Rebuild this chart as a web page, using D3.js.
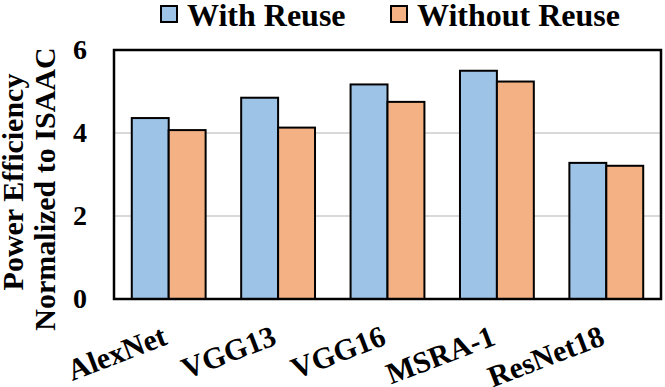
<!DOCTYPE html>
<html>
<head>
<meta charset="utf-8">
<script src="https://cdn.jsdelivr.net/npm/d3@7"></script>
<style>
  body { margin: 0; background: #fff; }
  text { font-family: "Liberation Serif", "Times New Roman", serif; font-weight: bold; }
</style>
</head>
<body>
<div id="chart"></div>
<script>
const categories = ['AlexNet', 'VGG13', 'VGG16', 'MSRA-1', 'ResNet18'];
const seriesNames = ['With Reuse', 'Without Reuse'];
const withReuse = [4.36, 4.85, 5.17, 5.50, 3.28];
const withoutReuse = [4.07, 4.13, 4.75, 5.24, 3.21];
const yTicks = [0, 2, 4, 6];

const colors = ['#9dc3e6', '#f4b183'];

const width = 665;
const height = 387;
const margin = { top: 50, right: 4, bottom: 88, left: 114 };
const innerWidth = width - margin.left - margin.right;
const innerHeight = height - margin.top - margin.bottom;

const data = categories.map((c, i) => ({ category: c, values: [withReuse[i], withoutReuse[i]] }));

const svg = d3.select('#chart')
    .append('svg')
    .attr('width', width)
    .attr('height', height);

const g = svg.append('g')
    .attr('transform', `translate(${margin.left},${margin.top})`);

const x0 = d3.scaleBand()
    .domain(categories)
    .range([0, innerWidth])
    .paddingInner(0.325)
    .paddingOuter(0.1625);

const x1 = d3.scaleBand()
    .domain(seriesNames)
    .range([0, x0.bandwidth()]);

const yScale = d3.scaleLinear()
    .domain([0, 6])
    .range([innerHeight, 0]);

// gridlines
g.selectAll('.grid')
    .data(yTicks.filter(t => t > 0 && t < 6))
    .enter()
    .append('line')
    .attr('x1', 0)
    .attr('x2', innerWidth)
    .attr('y1', d => yScale(d))
    .attr('y2', d => yScale(d))
    .attr('stroke', '#d9d9d9')
    .attr('stroke-width', 2);

// bars
const groups = g.selectAll('.group')
    .data(data)
    .enter()
    .append('g')
    .attr('transform', d => `translate(${x0(d.category)},0)`);

groups.selectAll('rect')
    .data(d => d.values.map((v, i) => ({ key: seriesNames[i], value: v, idx: i })))
    .enter()
    .append('rect')
    .attr('x', d => x1(d.key))
    .attr('y', d => yScale(d.value))
    .attr('width', x1.bandwidth())
    .attr('height', d => innerHeight - yScale(d.value))
    .attr('fill', d => colors[d.idx])
    .attr('stroke', 'black')
    .attr('stroke-width', 2);

// frame
g.append('rect')
    .attr('x', 0)
    .attr('y', 0)
    .attr('width', innerWidth)
    .attr('height', innerHeight)
    .attr('fill', 'none')
    .attr('stroke', 'black')
    .attr('stroke-width', 2.5);

// y axis labels
const yAxis = d3.axisLeft(yScale).tickValues(yTicks).tickFormat(d3.format('d')).tickSize(0).tickPadding(27);
const yG = g.append('g').call(yAxis);
yG.select('.domain').remove();
yG.selectAll('text')
    .style('font-size', '28px')
    .attr('fill', 'black');

// x labels, rotated
g.selectAll('.xlabel')
    .data(categories)
    .enter()
    .append('text')
    .attr('text-anchor', 'end')
    .attr('transform', d => `translate(${x0(d) + x0.bandwidth() / 2},${innerHeight + 45}) rotate(-21)`)
    .style('font-size', '30px')
    .text(d => d);

// y title
const titleLines = ['Power Efficiency', 'Normalized to ISAAC'];
svg.selectAll('.ytitle')
    .data(titleLines)
    .enter()
    .append('text')
    .attr('text-anchor', 'middle')
    .attr('transform', (d, i) => `translate(${i === 0 ? 23 : 55},${i === 0 ? 182 : 189}) rotate(-90)`)
    .style('font-size', '30px')
    .text(d => d);

// legend
const legendX = [160, 390];
const legend = svg.selectAll('.legend')
    .data(seriesNames)
    .enter()
    .append('g')
    .attr('transform', (d, i) => `translate(${legendX[i]},5)`);

legend.append('rect')
    .attr('x', 1)
    .attr('y', 1)
    .attr('width', 16)
    .attr('height', 16)
    .attr('fill', (d, i) => colors[i])
    .attr('stroke', 'black')
    .attr('stroke-width', 2);

legend.append('text')
    .attr('x', 27)
    .attr('y', 21)
    .style('font-size', '32px')
    .text(d => d);
</script>
</body>
</html>
